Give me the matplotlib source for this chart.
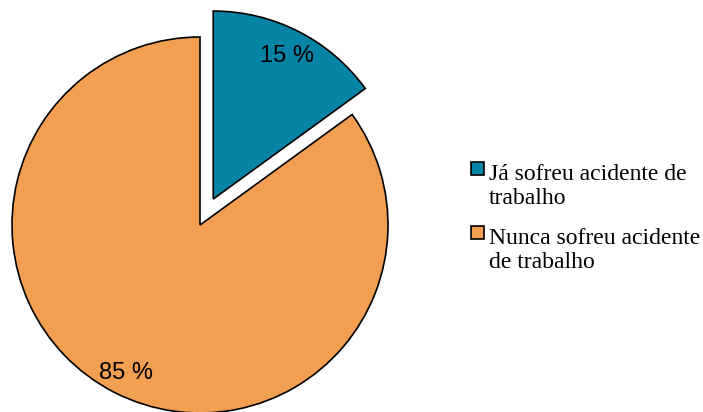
import matplotlib.pyplot as plt
from matplotlib.patches import Rectangle

labels = ['Já sofreu acidente de\ntrabalho', 'Nunca sofreu acidente\nde trabalho']
values = [15, 85]
colors = ['#0584A6', '#F29F51']
explode = [0.155, 0]

W, H = 703, 412
fig = plt.figure(figsize=(W / 100, H / 100), dpi=100)
ax = fig.add_axes([0, 0, 1, 1])

r_px = 188.0
cx, cy = 200.0, 225.0
wedges, texts, autotexts = ax.pie(values, colors=colors, explode=explode,
                                  startangle=90, counterclock=False,
                                  autopct='%1.0f %%', pctdistance=0.87,
                                  wedgeprops=dict(edgecolor='black', linewidth=1.2))
for t in autotexts:
    t.set_fontsize(17)
    t.set_family('Liberation Sans')
    t.set_color('black')
    t.set_va('center_baseline')

ax.set_xlim(-cx / r_px, (W - cx) / r_px)
ax.set_ylim(-(H - cy) / r_px, cy / r_px)
ax.set_aspect('auto')
ax.axis('off')

# legend drawn by hand so the square sits beside the first line
leg_x, leg_top = 471, 162
for i, (lab, col) in enumerate(zip(labels, colors)):
    top = leg_top + i * 64
    fig.patches.append(Rectangle((leg_x / W, 1 - (top + 13) / H), 13 / W, 13 / H,
                                 transform=fig.transFigure, facecolor=col,
                                 edgecolor='black', linewidth=1.2))
    # baseline of the last line of the label
    fig.text((leg_x + 18) / W, 1 - (top + 42) / H, lab, ha='left', va='baseline',
             fontsize=17, family='Liberation Serif', linespacing=1.2)

fig.savefig('out.png', dpi=100)
